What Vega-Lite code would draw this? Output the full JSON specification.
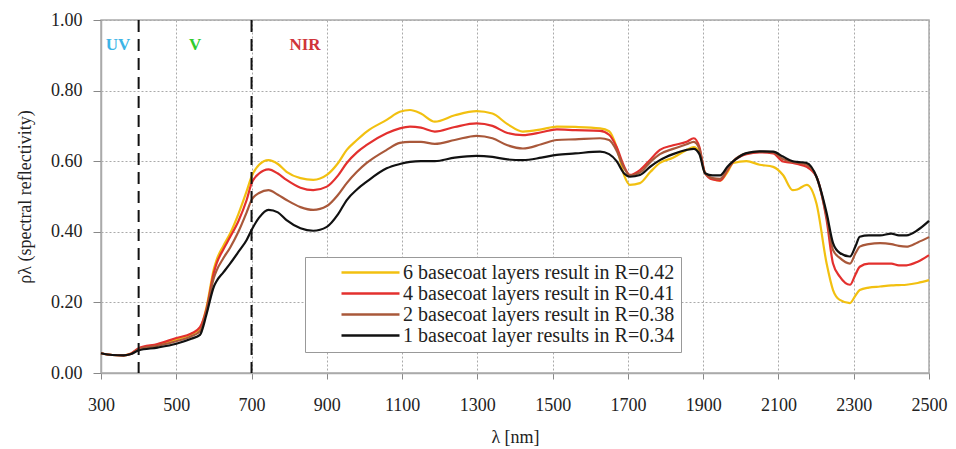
{
  "$schema": "https://vega.github.io/schema/vega-lite/v6.json",
  "width": 828,
  "height": 353,
  "autosize": {"type": "none"},
  "padding": {"left": 101, "top": 20, "right": 27, "bottom": 76},
  "background": "white",
  "config": {
    "view": {"stroke": "#aaa", "strokeWidth": 1.5},
    "font": "Liberation Serif",
    "axis": {
      "labelFont": "Liberation Serif", "titleFont": "Liberation Serif",
      "labelFontSize": 18, "titleFontSize": 18, "titleFontWeight": "normal",
      "labelColor": "#222", "titleColor": "#222",
      "domainColor": "#aaa", "domainWidth": 1.5, "tickColor": "#888",
      "gridColor": "#aaa", "gridDash": [2, 2], "gridWidth": 1
    },
    "legend": {
      "labelFont": "Liberation Serif", "labelFontSize": 20, "labelColor": "#222"
    }
  },
  "layer": [
    {
      "data": {"values": [
        {"nm":300,"layers":"6","rho":0.056},{"nm":330,"layers":"6","rho":0.051},{"nm":360,"layers":"6","rho":0.050},{"nm":380,"layers":"6","rho":0.055},{"nm":400,"layers":"6","rho":0.068},{"nm":450,"layers":"6","rho":0.080},{"nm":500,"layers":"6","rho":0.095},{"nm":540,"layers":"6","rho":0.110},{"nm":563,"layers":"6","rho":0.125},{"nm":580,"layers":"6","rho":0.185},{"nm":600,"layers":"6","rho":0.295},{"nm":607,"layers":"6","rho":0.320},{"nm":625,"layers":"6","rho":0.360},{"nm":643,"layers":"6","rho":0.395},{"nm":665,"layers":"6","rho":0.450},{"nm":687,"layers":"6","rho":0.515},{"nm":700,"layers":"6","rho":0.556},{"nm":720,"layers":"6","rho":0.590},{"nm":745,"layers":"6","rho":0.603},{"nm":770,"layers":"6","rho":0.592},{"nm":793,"layers":"6","rho":0.570},{"nm":830,"layers":"6","rho":0.552},{"nm":864,"layers":"6","rho":0.547},{"nm":900,"layers":"6","rho":0.561},{"nm":930,"layers":"6","rho":0.595},{"nm":953,"layers":"6","rho":0.632},{"nm":980,"layers":"6","rho":0.660},{"nm":1006,"layers":"6","rho":0.684},{"nm":1059,"layers":"6","rho":0.717},{"nm":1094,"layers":"6","rho":0.740},{"nm":1121,"layers":"6","rho":0.745},{"nm":1150,"layers":"6","rho":0.735},{"nm":1187,"layers":"6","rho":0.712},{"nm":1240,"layers":"6","rho":0.730},{"nm":1298,"layers":"6","rho":0.742},{"nm":1340,"layers":"6","rho":0.735},{"nm":1380,"layers":"6","rho":0.705},{"nm":1421,"layers":"6","rho":0.684},{"nm":1470,"layers":"6","rho":0.690},{"nm":1511,"layers":"6","rho":0.698},{"nm":1560,"layers":"6","rho":0.697},{"nm":1626,"layers":"6","rho":0.693},{"nm":1650,"layers":"6","rho":0.685},{"nm":1670,"layers":"6","rho":0.640},{"nm":1690,"layers":"6","rho":0.560},{"nm":1705,"layers":"6","rho":0.533},{"nm":1732,"layers":"6","rho":0.538},{"nm":1760,"layers":"6","rho":0.570},{"nm":1785,"layers":"6","rho":0.595},{"nm":1820,"layers":"6","rho":0.610},{"nm":1856,"layers":"6","rho":0.632},{"nm":1875,"layers":"6","rho":0.640},{"nm":1890,"layers":"6","rho":0.625},{"nm":1905,"layers":"6","rho":0.566},{"nm":1925,"layers":"6","rho":0.550},{"nm":1945,"layers":"6","rho":0.545},{"nm":1965,"layers":"6","rho":0.570},{"nm":1980,"layers":"6","rho":0.595},{"nm":2015,"layers":"6","rho":0.600},{"nm":2050,"layers":"6","rho":0.590},{"nm":2086,"layers":"6","rho":0.584},{"nm":2112,"layers":"6","rho":0.561},{"nm":2138,"layers":"6","rho":0.518},{"nm":2150,"layers":"6","rho":0.520},{"nm":2175,"layers":"6","rho":0.533},{"nm":2201,"layers":"6","rho":0.480},{"nm":2228,"layers":"6","rho":0.310},{"nm":2245,"layers":"6","rho":0.235},{"nm":2263,"layers":"6","rho":0.207},{"nm":2290,"layers":"6","rho":0.198},{"nm":2305,"layers":"6","rho":0.220},{"nm":2316,"layers":"6","rho":0.235},{"nm":2340,"layers":"6","rho":0.242},{"nm":2370,"layers":"6","rho":0.245},{"nm":2400,"layers":"6","rho":0.248},{"nm":2420,"layers":"6","rho":0.249},{"nm":2440,"layers":"6","rho":0.250},{"nm":2470,"layers":"6","rho":0.255},{"nm":2500,"layers":"6","rho":0.263},

        {"nm":300,"layers":"4","rho":0.056},{"nm":330,"layers":"4","rho":0.051},{"nm":360,"layers":"4","rho":0.050},{"nm":380,"layers":"4","rho":0.055},{"nm":400,"layers":"4","rho":0.070},{"nm":450,"layers":"4","rho":0.082},{"nm":500,"layers":"4","rho":0.099},{"nm":540,"layers":"4","rho":0.112},{"nm":563,"layers":"4","rho":0.130},{"nm":580,"layers":"4","rho":0.180},{"nm":600,"layers":"4","rho":0.285},{"nm":607,"layers":"4","rho":0.310},{"nm":625,"layers":"4","rho":0.350},{"nm":643,"layers":"4","rho":0.385},{"nm":665,"layers":"4","rho":0.430},{"nm":687,"layers":"4","rho":0.490},{"nm":700,"layers":"4","rho":0.537},{"nm":720,"layers":"4","rho":0.565},{"nm":745,"layers":"4","rho":0.577},{"nm":770,"layers":"4","rho":0.565},{"nm":793,"layers":"4","rho":0.547},{"nm":830,"layers":"4","rho":0.525},{"nm":864,"layers":"4","rho":0.518},{"nm":900,"layers":"4","rho":0.528},{"nm":930,"layers":"4","rho":0.560},{"nm":953,"layers":"4","rho":0.595},{"nm":980,"layers":"4","rho":0.625},{"nm":1006,"layers":"4","rho":0.646},{"nm":1059,"layers":"4","rho":0.679},{"nm":1094,"layers":"4","rho":0.693},{"nm":1121,"layers":"4","rho":0.698},{"nm":1150,"layers":"4","rho":0.695},{"nm":1187,"layers":"4","rho":0.684},{"nm":1240,"layers":"4","rho":0.697},{"nm":1298,"layers":"4","rho":0.707},{"nm":1340,"layers":"4","rho":0.700},{"nm":1380,"layers":"4","rho":0.680},{"nm":1421,"layers":"4","rho":0.674},{"nm":1470,"layers":"4","rho":0.682},{"nm":1511,"layers":"4","rho":0.690},{"nm":1560,"layers":"4","rho":0.688},{"nm":1626,"layers":"4","rho":0.686},{"nm":1650,"layers":"4","rho":0.675},{"nm":1670,"layers":"4","rho":0.640},{"nm":1690,"layers":"4","rho":0.585},{"nm":1705,"layers":"4","rho":0.561},{"nm":1732,"layers":"4","rho":0.575},{"nm":1760,"layers":"4","rho":0.605},{"nm":1785,"layers":"4","rho":0.632},{"nm":1820,"layers":"4","rho":0.645},{"nm":1856,"layers":"4","rho":0.655},{"nm":1875,"layers":"4","rho":0.665},{"nm":1890,"layers":"4","rho":0.640},{"nm":1905,"layers":"4","rho":0.566},{"nm":1925,"layers":"4","rho":0.548},{"nm":1945,"layers":"4","rho":0.545},{"nm":1965,"layers":"4","rho":0.575},{"nm":1980,"layers":"4","rho":0.599},{"nm":2015,"layers":"4","rho":0.620},{"nm":2050,"layers":"4","rho":0.625},{"nm":2086,"layers":"4","rho":0.622},{"nm":2112,"layers":"4","rho":0.599},{"nm":2138,"layers":"4","rho":0.595},{"nm":2150,"layers":"4","rho":0.592},{"nm":2175,"layers":"4","rho":0.584},{"nm":2201,"layers":"4","rho":0.556},{"nm":2228,"layers":"4","rho":0.433},{"nm":2245,"layers":"4","rho":0.310},{"nm":2263,"layers":"4","rho":0.273},{"nm":2290,"layers":"4","rho":0.250},{"nm":2305,"layers":"4","rho":0.280},{"nm":2316,"layers":"4","rho":0.301},{"nm":2340,"layers":"4","rho":0.310},{"nm":2370,"layers":"4","rho":0.310},{"nm":2400,"layers":"4","rho":0.310},{"nm":2420,"layers":"4","rho":0.305},{"nm":2440,"layers":"4","rho":0.305},{"nm":2470,"layers":"4","rho":0.315},{"nm":2500,"layers":"4","rho":0.334},

        {"nm":300,"layers":"2","rho":0.056},{"nm":330,"layers":"2","rho":0.051},{"nm":360,"layers":"2","rho":0.050},{"nm":380,"layers":"2","rho":0.054},{"nm":400,"layers":"2","rho":0.067},{"nm":450,"layers":"2","rho":0.077},{"nm":500,"layers":"2","rho":0.090},{"nm":540,"layers":"2","rho":0.104},{"nm":563,"layers":"2","rho":0.118},{"nm":580,"layers":"2","rho":0.175},{"nm":600,"layers":"2","rho":0.270},{"nm":607,"layers":"2","rho":0.290},{"nm":625,"layers":"2","rho":0.325},{"nm":643,"layers":"2","rho":0.355},{"nm":665,"layers":"2","rho":0.400},{"nm":687,"layers":"2","rho":0.455},{"nm":700,"layers":"2","rho":0.490},{"nm":720,"layers":"2","rho":0.510},{"nm":745,"layers":"2","rho":0.518},{"nm":770,"layers":"2","rho":0.505},{"nm":793,"layers":"2","rho":0.490},{"nm":830,"layers":"2","rho":0.470},{"nm":864,"layers":"2","rho":0.462},{"nm":900,"layers":"2","rho":0.473},{"nm":930,"layers":"2","rho":0.505},{"nm":953,"layers":"2","rho":0.538},{"nm":980,"layers":"2","rho":0.570},{"nm":1006,"layers":"2","rho":0.595},{"nm":1059,"layers":"2","rho":0.632},{"nm":1094,"layers":"2","rho":0.652},{"nm":1121,"layers":"2","rho":0.655},{"nm":1150,"layers":"2","rho":0.655},{"nm":1187,"layers":"2","rho":0.649},{"nm":1240,"layers":"2","rho":0.660},{"nm":1298,"layers":"2","rho":0.672},{"nm":1340,"layers":"2","rho":0.665},{"nm":1380,"layers":"2","rho":0.645},{"nm":1421,"layers":"2","rho":0.636},{"nm":1470,"layers":"2","rho":0.648},{"nm":1511,"layers":"2","rho":0.660},{"nm":1560,"layers":"2","rho":0.662},{"nm":1626,"layers":"2","rho":0.665},{"nm":1650,"layers":"2","rho":0.660},{"nm":1670,"layers":"2","rho":0.630},{"nm":1690,"layers":"2","rho":0.580},{"nm":1705,"layers":"2","rho":0.560},{"nm":1732,"layers":"2","rho":0.568},{"nm":1760,"layers":"2","rho":0.598},{"nm":1785,"layers":"2","rho":0.620},{"nm":1820,"layers":"2","rho":0.635},{"nm":1856,"layers":"2","rho":0.648},{"nm":1875,"layers":"2","rho":0.655},{"nm":1890,"layers":"2","rho":0.635},{"nm":1905,"layers":"2","rho":0.566},{"nm":1925,"layers":"2","rho":0.552},{"nm":1945,"layers":"2","rho":0.550},{"nm":1965,"layers":"2","rho":0.578},{"nm":1980,"layers":"2","rho":0.600},{"nm":2015,"layers":"2","rho":0.622},{"nm":2050,"layers":"2","rho":0.627},{"nm":2086,"layers":"2","rho":0.625},{"nm":2112,"layers":"2","rho":0.606},{"nm":2138,"layers":"2","rho":0.598},{"nm":2150,"layers":"2","rho":0.596},{"nm":2175,"layers":"2","rho":0.590},{"nm":2201,"layers":"2","rho":0.556},{"nm":2228,"layers":"2","rho":0.443},{"nm":2245,"layers":"2","rho":0.348},{"nm":2263,"layers":"2","rho":0.326},{"nm":2290,"layers":"2","rho":0.310},{"nm":2305,"layers":"2","rho":0.340},{"nm":2316,"layers":"2","rho":0.358},{"nm":2340,"layers":"2","rho":0.365},{"nm":2370,"layers":"2","rho":0.368},{"nm":2400,"layers":"2","rho":0.365},{"nm":2420,"layers":"2","rho":0.360},{"nm":2440,"layers":"2","rho":0.358},{"nm":2470,"layers":"2","rho":0.370},{"nm":2500,"layers":"2","rho":0.385},

        {"nm":300,"layers":"1","rho":0.056},{"nm":330,"layers":"1","rho":0.051},{"nm":360,"layers":"1","rho":0.050},{"nm":380,"layers":"1","rho":0.054},{"nm":400,"layers":"1","rho":0.064},{"nm":450,"layers":"1","rho":0.072},{"nm":500,"layers":"1","rho":0.083},{"nm":540,"layers":"1","rho":0.097},{"nm":563,"layers":"1","rho":0.108},{"nm":580,"layers":"1","rho":0.165},{"nm":600,"layers":"1","rho":0.245},{"nm":607,"layers":"1","rho":0.260},{"nm":625,"layers":"1","rho":0.285},{"nm":643,"layers":"1","rho":0.310},{"nm":665,"layers":"1","rho":0.343},{"nm":687,"layers":"1","rho":0.377},{"nm":700,"layers":"1","rho":0.405},{"nm":720,"layers":"1","rho":0.440},{"nm":745,"layers":"1","rho":0.462},{"nm":770,"layers":"1","rho":0.455},{"nm":793,"layers":"1","rho":0.433},{"nm":830,"layers":"1","rho":0.410},{"nm":864,"layers":"1","rho":0.403},{"nm":900,"layers":"1","rho":0.414},{"nm":930,"layers":"1","rho":0.450},{"nm":953,"layers":"1","rho":0.490},{"nm":980,"layers":"1","rho":0.520},{"nm":1006,"layers":"1","rho":0.542},{"nm":1059,"layers":"1","rho":0.580},{"nm":1094,"layers":"1","rho":0.592},{"nm":1121,"layers":"1","rho":0.598},{"nm":1150,"layers":"1","rho":0.600},{"nm":1187,"layers":"1","rho":0.600},{"nm":1240,"layers":"1","rho":0.610},{"nm":1298,"layers":"1","rho":0.615},{"nm":1340,"layers":"1","rho":0.612},{"nm":1380,"layers":"1","rho":0.605},{"nm":1421,"layers":"1","rho":0.603},{"nm":1470,"layers":"1","rho":0.610},{"nm":1511,"layers":"1","rho":0.618},{"nm":1560,"layers":"1","rho":0.622},{"nm":1626,"layers":"1","rho":0.627},{"nm":1650,"layers":"1","rho":0.620},{"nm":1670,"layers":"1","rho":0.600},{"nm":1690,"layers":"1","rho":0.565},{"nm":1705,"layers":"1","rho":0.556},{"nm":1732,"layers":"1","rho":0.561},{"nm":1760,"layers":"1","rho":0.585},{"nm":1785,"layers":"1","rho":0.603},{"nm":1820,"layers":"1","rho":0.620},{"nm":1856,"layers":"1","rho":0.632},{"nm":1875,"layers":"1","rho":0.635},{"nm":1890,"layers":"1","rho":0.620},{"nm":1905,"layers":"1","rho":0.566},{"nm":1925,"layers":"1","rho":0.560},{"nm":1945,"layers":"1","rho":0.560},{"nm":1965,"layers":"1","rho":0.585},{"nm":1980,"layers":"1","rho":0.600},{"nm":2015,"layers":"1","rho":0.623},{"nm":2050,"layers":"1","rho":0.628},{"nm":2086,"layers":"1","rho":0.627},{"nm":2112,"layers":"1","rho":0.613},{"nm":2138,"layers":"1","rho":0.600},{"nm":2150,"layers":"1","rho":0.598},{"nm":2175,"layers":"1","rho":0.595},{"nm":2201,"layers":"1","rho":0.556},{"nm":2228,"layers":"1","rho":0.453},{"nm":2245,"layers":"1","rho":0.368},{"nm":2263,"layers":"1","rho":0.340},{"nm":2290,"layers":"1","rho":0.330},{"nm":2305,"layers":"1","rho":0.360},{"nm":2316,"layers":"1","rho":0.386},{"nm":2340,"layers":"1","rho":0.390},{"nm":2370,"layers":"1","rho":0.390},{"nm":2400,"layers":"1","rho":0.395},{"nm":2420,"layers":"1","rho":0.390},{"nm":2440,"layers":"1","rho":0.390},{"nm":2470,"layers":"1","rho":0.405},{"nm":2500,"layers":"1","rho":0.431}
      ]},
      "mark": {"type": "line", "strokeWidth": 2.2, "interpolate": "monotone"},
      "encoding": {
        "x": {
          "field": "nm", "type": "quantitative",
          "scale": {"domain": [300, 2500], "nice": false, "zero": false},
          "axis": {
            "title": "λ  [nm]",
            "values": [300, 500, 700, 900, 1100, 1300, 1500, 1700, 1900, 2100, 2300, 2500],
            "format": "d", "tickSize": 6, "labelPadding": 17, "titlePadding": 14, "labelFlush": false
          }
        },
        "y": {
          "field": "rho", "type": "quantitative",
          "scale": {"domain": [0, 1], "nice": false},
          "axis": {
            "title": "ρλ  (spectral reflectivity)",
            "values": [0, 0.2, 0.4, 0.6, 0.8, 1.0],
            "format": ".2f", "tickSize": 8, "labelPadding": 11, "titlePadding": 16, "labelFlush": false
          }
        },
        "color": {
          "field": "layers", "type": "nominal",
          "scale": {"domain": ["6", "4", "2", "1"], "range": ["#f2c010", "#e3302e", "#a9583a", "#111111"]},
          "legend": {
            "title": null,
            "orient": "none", "legendX": 204, "legendY": 237,
            "symbolType": "stroke", "symbolSize": 3364, "symbolStrokeWidth": 2.5,
            "symbolOffset": 29,
            "clipHeight": 19,
            "labelOffset": 2,
            "labelLimit": 600,
            "padding": 6,
            "rowPadding": 0,
            "fillColor": "white", "strokeColor": "#999",
            "labelExpr": "{'6':'6 basecoat layers result in R=0.42','4':'4 basecoat layers result in R=0.41','2':'2 basecoat layers result in R=0.38','1':'1 basecoat layer results in R=0.34'}[datum.label]"
          }
        }
      }
    },
    {
      "data": {"values": [{"nm": 400}, {"nm": 700}]},
      "mark": {"type": "rule", "color": "#111", "strokeWidth": 2, "strokeDash": [12, 7]},
      "encoding": {"x": {"field": "nm", "type": "quantitative"}}
    },
    {
      "data": {"values": [{"nm": 345, "rho": 0.93, "label": "UV"}]},
      "mark": {"type": "text", "font": "Liberation Serif", "fontSize": 17, "fontWeight": "bold", "color": "#3cb4e6"},
      "encoding": {"x": {"field": "nm", "type": "quantitative"}, "y": {"field": "rho", "type": "quantitative"}, "text": {"field": "label"}}
    },
    {
      "data": {"values": [{"nm": 550, "rho": 0.93, "label": "V"}]},
      "mark": {"type": "text", "font": "Liberation Serif", "fontSize": 17, "fontWeight": "bold", "color": "#2ecc2e"},
      "encoding": {"x": {"field": "nm", "type": "quantitative"}, "y": {"field": "rho", "type": "quantitative"}, "text": {"field": "label"}}
    },
    {
      "data": {"values": [{"nm": 842, "rho": 0.93, "label": "NIR"}]},
      "mark": {"type": "text", "font": "Liberation Serif", "fontSize": 17, "fontWeight": "bold", "color": "#d0343a"},
      "encoding": {"x": {"field": "nm", "type": "quantitative"}, "y": {"field": "rho", "type": "quantitative"}, "text": {"field": "label"}}
    }
  ]
}
